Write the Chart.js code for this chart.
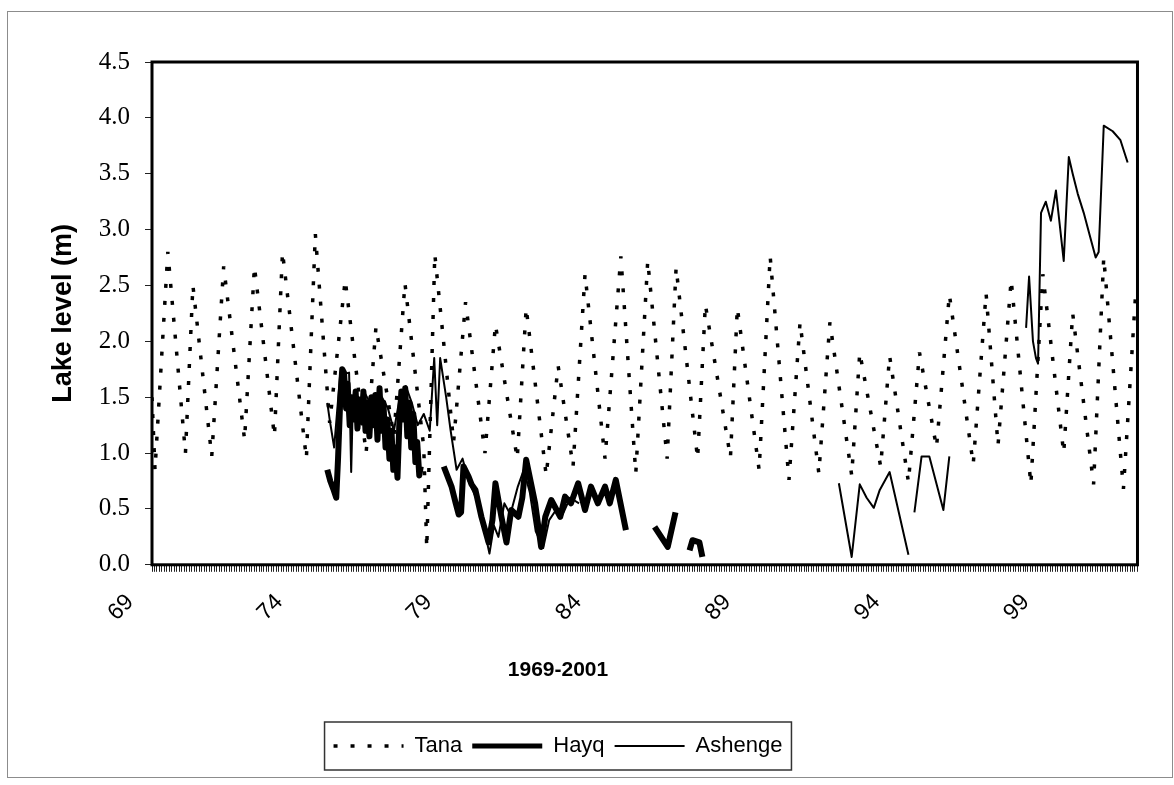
<!DOCTYPE html>
<html>
<head>
<meta charset="utf-8">
<title>Lake levels 1969-2001</title>
<script src="https://cdn.jsdelivr.net/npm/chart.js@4.4.1/dist/chart.umd.min.js"></script>
<style>
  html, body { margin: 0; padding: 0; background: #fff; overflow: hidden; }
  body { width: 1174px; height: 785px; position: relative; }
  #frame { position: absolute; left: 7px; top: 11px; width: 1166px; height: 767px; border: 1px solid #8c8c8c; box-sizing: border-box; }
  #wrap { position: absolute; left: -26px; top: 0; width: 1200px; height: 785px; }
</style>
</head>
<body>
<div id="frame"></div>
<div id="wrap"><canvas id="lake-chart" width="1200" height="785"></canvas></div>
<script>
// Lake levels (m), turning points of the monthly records, x in decimal years
var tanaYears = [1969.00, 1969.10, 1969.53, 1970.12, 1970.37, 1971.00, 1971.40, 1972.10, 1972.43, 1973.10,
    1973.37, 1974.17, 1974.47, 1974.95, 1975.47, 1976.17, 1976.50, 1977.10, 1977.47, 1978.10,
    1978.20, 1978.47, 1979.10, 1979.50, 1980.15, 1980.50, 1981.23, 1981.53, 1982.20, 1982.60,
    1983.10, 1983.50, 1984.17, 1984.70, 1985.20, 1985.60, 1986.25, 1986.55, 1987.27, 1987.53,
    1988.37, 1988.60, 1989.33, 1989.70, 1990.33, 1990.70, 1991.33, 1991.70, 1992.43, 1992.70,
    1993.40, 1993.70, 1994.33, 1994.70, 1995.27, 1995.70, 1996.50, 1996.93, 1997.33, 1997.77,
    1998.43, 1998.83, 1999.53, 1999.83, 2000.53, 2000.87, 2001.53, 2001.95];
var tanaLevels = [1.50, 0.85, 2.80, 1.00, 2.50, 0.97, 2.67, 1.12, 2.67, 1.15,
    2.80, 0.95, 2.96, 1.27, 2.55, 1.00, 2.13, 1.15, 2.52, 1.05,
    0.15, 2.78, 1.10, 2.35, 1.00, 2.15, 0.95, 2.30, 0.80, 1.78,
    0.88, 2.60, 0.95, 2.76, 0.82, 2.72, 0.95, 2.66, 0.95, 2.33,
    0.96, 2.30, 0.85, 2.76, 0.76, 2.17, 0.82, 2.17, 0.80, 1.90,
    0.88, 1.87, 0.74, 1.90, 1.05, 2.42, 0.90, 2.43, 1.07, 2.55,
    0.72, 2.60, 1.00, 2.25, 0.72, 2.75, 0.68, 2.48];

var hayqYears = [1974.87, 1974.97, 1975.07, 1975.17, 1975.23, 1975.30, 1975.37, 1975.43, 1975.50, 1975.55,
    1975.62, 1975.68, 1975.75, 1975.82, 1975.88, 1975.95, 1976.02, 1976.08, 1976.15, 1976.22,
    1976.28, 1976.35, 1976.42, 1976.48, 1976.55, 1976.62, 1976.68, 1976.75, 1976.82, 1976.88,
    1976.95, 1977.02, 1977.08, 1977.15, 1977.22, 1977.28, 1977.35, 1977.42, 1977.48, 1977.55,
    1977.62, 1977.68, 1977.75, 1977.82, 1977.88, 1977.95, 1978.00, 1978.30,
    1978.77, 1979.03, 1979.17, 1979.27, 1979.35, 1979.43, 1979.60, 1979.70, 1979.83, 1980.03,
    1980.27, 1980.40, 1980.50, 1980.70, 1980.87, 1981.03, 1981.27, 1981.40, 1981.53, 1981.83,
    1982.03, 1982.17, 1982.37, 1982.67, 1982.83, 1983.03, 1983.27, 1983.50, 1983.70, 1983.93,
    1984.17, 1984.33, 1984.53, 1984.87, 1985.30,
    1985.83, 1986.27, 1986.53, 1986.80,
    1987.00, 1987.10, 1987.33, 1987.43];
var hayqLevels = [0.85, 0.75, 0.68, 0.60, 0.95, 1.45, 1.75, 1.72, 1.40, 1.62,
    1.25, 1.50, 1.30, 1.55, 1.22, 1.48, 1.28, 1.55, 1.20, 1.45,
    1.15, 1.50, 1.25, 1.52, 1.12, 1.58, 1.20, 1.45, 1.05, 1.30,
    0.95, 1.20, 0.85, 1.05, 0.78, 1.25, 1.55, 1.30, 1.58, 1.15,
    1.45, 1.05, 1.35, 0.92, 1.10, 0.80, 0.88, null,
    0.88, 0.70, 0.55, 0.45, 0.47, 0.88, 0.79, 0.72, 0.67, 0.43,
    0.20, 0.40, 0.73, 0.43, 0.20, 0.49, 0.43, 0.60, 0.94, 0.55,
    0.16, 0.43, 0.58, 0.43, 0.61, 0.55, 0.73, 0.49, 0.70, 0.55,
    0.70, 0.55, 0.76, 0.31, null,
    0.34, 0.16, 0.47, null,
    0.13, 0.22, 0.20, 0.07];

var ashengeYears = [1974.87, 1974.95, 1975.10, 1975.30, 1975.60, 1975.67, 1975.73, 1975.90, 1976.10, 1976.30,
    1976.50, 1976.70, 1976.90, 1977.10, 1977.30, 1977.50, 1977.70, 1977.90, 1978.10, 1978.30,
    1978.45, 1978.55, 1978.65, 1978.85, 1979.00, 1979.20, 1979.40, 1979.60, 1979.85, 1980.10,
    1980.30, 1980.45, 1980.60, 1980.80, 1981.00, 1981.25, 1981.45, 1981.65, 1981.85, 1982.10,
    1982.30, 1982.55, 1982.75, 1983.00, 1983.30, 1985.00,
    1992.00, 1992.43, 1992.70, 1992.93, 1993.17, 1993.37, 1993.70, 1994.33, 1994.43,
    1994.53, 1994.77, 1995.03, 1995.50, 1995.70, 1997.00,
    1998.27, 1998.37, 1998.50, 1998.60, 1998.67, 1998.77, 1998.93, 1999.10, 1999.27, 1999.53,
    1999.70, 1999.83, 2000.00, 2000.20, 2000.40, 2000.60, 2000.70, 2000.87, 2001.17, 2001.43,
    2001.67];
var ashengeLevels = [1.45, 1.30, 1.05, 1.70, 1.72, 0.83, 1.50, 1.35, 1.55, 1.45,
    1.30, 1.50, 1.40, 1.20, 1.50, 1.60, 1.45, 1.25, 1.35, 1.20,
    1.85, 1.25, 1.85, 1.50, 1.20, 0.85, 0.95, 0.75, 0.60, 0.35,
    0.10, 0.35, 0.25, 0.55, 0.45, 0.70, 0.85, 0.65, 0.30, 0.15,
    0.40, 0.50, 0.45, 0.60, 0.55, null,
    0.73, 0.07, 0.72, 0.60, 0.51, 0.67, 0.83, 0.09, null,
    0.47, 0.97, 0.97, 0.49, 0.97, null,
    2.12, 2.58, 2.00, 1.85, 1.80, 3.15, 3.25, 3.08, 3.35, 2.72,
    3.65, 3.50, 3.32, 3.15, 2.95, 2.75, 2.80, 3.93, 3.88, 3.80,
    3.60];

var xTickLabels = ['69', '74', '79', '84', '89', '94', '99'];
var firstYear = 1969;
var lastYear = 2002;

var sansFont = "'Liberation Sans', Arial, sans-serif";
var serifFont = "'Liberation Serif', 'Times New Roman', serif";

var toPoints = function (years, levels) {
    return years.map(function (x, i) {
        return { x: x, y: levels[i] };
    });
};

// plot area border and the box around the legend
var framesPlugin = {
    id: 'frames',
    afterDatasetsDraw: function (chart) {
        var a = chart.chartArea;
        var ctx = chart.ctx;
        ctx.save();
        ctx.strokeStyle = '#000';
        ctx.lineWidth = 3;
        ctx.strokeRect(a.left, a.top, a.right - a.left, a.bottom - a.top);
        ctx.restore();
    },
    afterDraw: function (chart) {
        var boxes = chart.legend.legendHitBoxes;
        if (!boxes || !boxes.length) return;
        var first = boxes[0];
        var last = boxes[boxes.length - 1];
        var ctx = chart.ctx;
        ctx.save();
        ctx.strokeStyle = '#333';
        ctx.lineWidth = 1.5;
        ctx.strokeRect(first.left - 9, first.top - 13, last.left + last.width - first.left + 18, first.height + 26);
        ctx.restore();
    }
};

Chart.defaults.color = '#000';

var lakeChart = new Chart(document.getElementById('lake-chart'), {
    type: 'line',
    data: {
        datasets: [{
            label: 'Tana',
            data: toPoints(tanaYears, tanaLevels),
            borderColor: '#000',
            borderWidth: 3.5,
            borderDash: [4, 13],
            borderCapStyle: 'butt',
            borderJoinStyle: 'bevel',
            pointRadius: 0,
            order: 3
        }, {
            label: 'Hayq',
            data: toPoints(hayqYears, hayqLevels),
            borderColor: '#000',
            borderWidth: 6,
            borderJoinStyle: 'round',
            pointRadius: 0,
            order: 2
        }, {
            label: 'Ashenge',
            data: toPoints(ashengeYears, ashengeLevels),
            borderColor: '#000',
            borderWidth: 2,
            borderJoinStyle: 'round',
            pointRadius: 0,
            order: 1
        }]
    },
    options: {
        responsive: false,
        animation: false,
        layout: {
            padding: { left: 0, right: 32, top: 62, bottom: 18 }
        },
        scales: {
            x: {
                type: 'linear',
                min: firstYear,
                max: lastYear,
                afterBuildTicks: function (scale) { // one tick mark per month
                    var ticks = [];
                    for (var m = 0; m <= (lastYear - firstYear) * 12; m++) {
                        ticks.push({ value: firstYear + m / 12 });
                    }
                    scale.ticks = ticks;
                },
                afterFit: function (scale) {
                    scale.height = 80;
                },
                border: { display: false },
                grid: { drawOnChartArea: false, color: '#222', lineWidth: 1, tickLength: 7 },
                ticks: {
                    autoSkip: false,
                    minRotation: 45,
                    maxRotation: 45,
                    padding: 17,
                    labelOffset: -22,
                    font: { family: sansFont, size: 23 },
                    callback: function (value, index) {
                        return index % 60 === 0 && xTickLabels[index / 60] ? xTickLabels[index / 60] : '';
                    }
                }
            },
            y: {
                min: 0,
                max: 4.5,
                afterFit: function (scale) {
                    scale.width = 178;
                },
                border: { display: false },
                grid: { drawOnChartArea: false, color: '#222', tickLength: 7 },
                ticks: {
                    stepSize: 0.5,
                    padding: 15,
                    font: { family: serifFont, size: 25 },
                    callback: function (value) {
                        return value.toFixed(1);
                    }
                },
                title: {
                    display: true,
                    text: 'Lake level (m)',
                    padding: { top: 73, bottom: 0 },
                    font: { family: sansFont, size: 27, weight: 'bold' }
                }
            }
        },
        plugins: {
            title: {
                display: true,
                position: 'bottom',
                weight: 500,
                text: '1969-2001',
                padding: { top: 13, bottom: 42 },
                font: { family: sansFont, size: 21, weight: 'bold' }
            },
            legend: {
                position: 'bottom',
                labels: {
                    usePointStyle: true,
                    pointStyle: 'line',
                    pointStyleWidth: 70,
                    padding: 10,
                    font: { family: sansFont, size: 22 },
                    sort: function (a, b) {
                        return a.datasetIndex - b.datasetIndex;
                    },
                    generateLabels: function (chart) { // legend samples use the line styles
                        var items = Chart.defaults.plugins.legend.labels.generateLabels(chart);
                        items.forEach(function (item) {
                            var ds = chart.data.datasets[item.datasetIndex];
                            item.lineWidth = Math.min(ds.borderWidth, 5);
                            item.lineDash = ds.borderDash || [];
                            item.strokeStyle = '#000';
                            item.fillStyle = '#000';
                        });
                        return items;
                    }
                }
            },
            tooltip: { enabled: false }
        }
    },
    plugins: [framesPlugin]
});
</script>
</body>
</html>
